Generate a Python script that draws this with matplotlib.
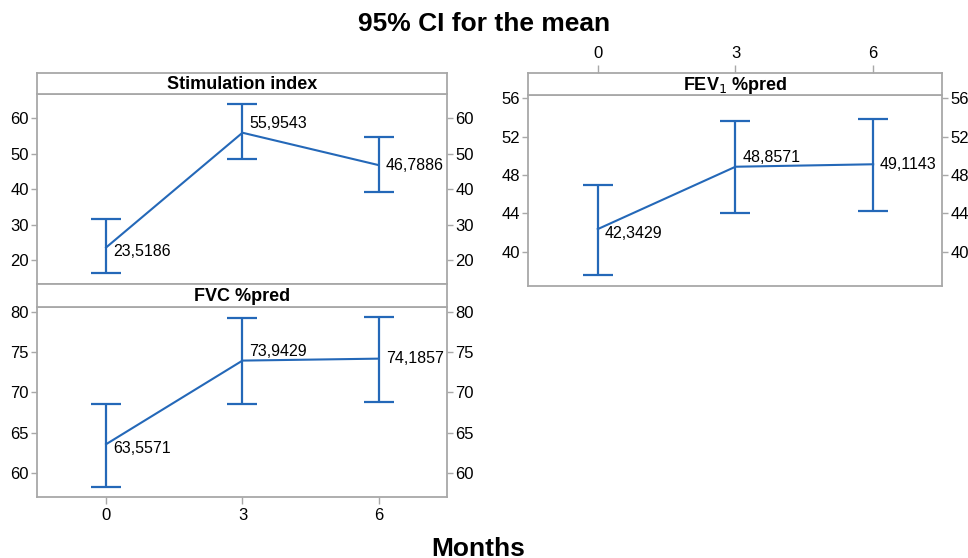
import matplotlib
matplotlib.use("Agg")
import matplotlib.pyplot as plt

plt.rcParams["font.family"] = ["Liberation Sans", "DejaVu Sans"]

months = [0, 3, 6]

stim_mean = [23.5186, 55.9543, 46.7886]
stim_low = [16.3, 48.5, 39.3]
stim_high = [31.6, 64.1, 54.7]

fvc_mean = [63.5571, 73.9429, 74.1857]
fvc_low = [58.3, 68.6, 68.85]
fvc_high = [68.6, 79.2, 79.4]

fev_mean = [42.3429, 48.8571, 49.1143]
fev_low = [37.6, 44.0, 44.2]
fev_high = [47.0, 53.6, 53.8]

LINE = "#2468b8"
FRAME = "#a8a8a8"
W, H = 968, 558
XLIM = (-1.52, 7.5)


def px_axes(fig, x0, x1, y0, y1):
    # pixel box (top-left origin) -> figure axes
    return fig.add_axes([x0 / W, 1 - y1 / H, (x1 - x0) / W, (y1 - y0) / H])


def strip(fig, x0, x1, y0, y1, title, top_ticks=False):
    ax = px_axes(fig, x0, x1, y0, y1)
    ax.set_xlim(*XLIM)
    ax.set_yticks([])
    if top_ticks:
        ax.set_xticks(months)
        ax.tick_params(axis="x", bottom=False, top=True, labelbottom=False, labeltop=True,
                       length=6, width=1, color=FRAME, labelsize=12, pad=3)
    else:
        ax.set_xticks([])
    for s in ax.spines.values():
        s.set_color(FRAME)
        s.set_linewidth(1.3)
    ax.text(0.5, 0.45, title, transform=ax.transAxes, ha="center", va="center",
            fontsize=13, fontweight="bold")
    return ax


def panel(ax, mean, low, high, yticks, ylim, bottom_ticks):
    err = [[m - l for m, l in zip(mean, low)], [h - m for m, h in zip(mean, high)]]
    ax.errorbar(months, mean, yerr=err, color=LINE, lw=1.5, elinewidth=1.6,
                capsize=10.5, capthick=1.6)
    offsets = [(5, -3), (5, 6.5), (5, 0)]
    for x, m, off in zip(months, mean, offsets):
        ax.annotate(f"{m:.4f}".replace(".", ","), (x, m), xytext=off,
                    textcoords="offset points", ha="left", va="center", fontsize=11.5)
    ax.set_xlim(*XLIM)
    ax.set_ylim(*ylim)
    ax.set_yticks(yticks)
    ax.set_xticks(months)
    for s in ax.spines.values():
        s.set_color(FRAME)
        s.set_linewidth(1.3)
    ax.tick_params(axis="y", left=True, right=True, labelleft=True, labelright=True,
                   length=4, width=1, color=FRAME, labelsize=12, pad=2)
    if bottom_ticks:
        ax.tick_params(axis="x", bottom=True, top=False, labelbottom=True,
                       length=5, width=1, color=FRAME, labelsize=12, pad=3)
    else:
        ax.tick_params(axis="x", bottom=False, labelbottom=False)


fig = plt.figure(figsize=(W / 100, H / 100), dpi=100)

ax_stim = px_axes(fig, 37, 447, 94, 284)
panel(ax_stim, stim_mean, stim_low, stim_high, [20, 30, 40, 50, 60], (13.2, 66.9), False)
strip(fig, 37, 447, 73, 94, "Stimulation index")

ax_fvc = px_axes(fig, 37, 447, 307, 497)
panel(ax_fvc, fvc_mean, fvc_low, fvc_high, [60, 65, 70, 75, 80], (57.0, 80.6), True)
strip(fig, 37, 447, 284, 307, "FVC %pred")

ax_fev = px_axes(fig, 528, 942, 95, 286)
panel(ax_fev, fev_mean, fev_low, fev_high, [40, 44, 48, 52, 56], (36.4, 56.35), False)
strip(fig, 528, 942, 73, 95, "FEV$_1$ %pred", top_ticks=True)

fig.text(0.5, 1 - 24 / H, "95% CI for the mean", ha="center", va="center",
         fontsize=19, fontweight="bold")
fig.text(0.494, 1 - 549 / H, "Months", ha="center", va="center",
         fontsize=19, fontweight="bold")

fig.savefig("out.png", dpi=100)
